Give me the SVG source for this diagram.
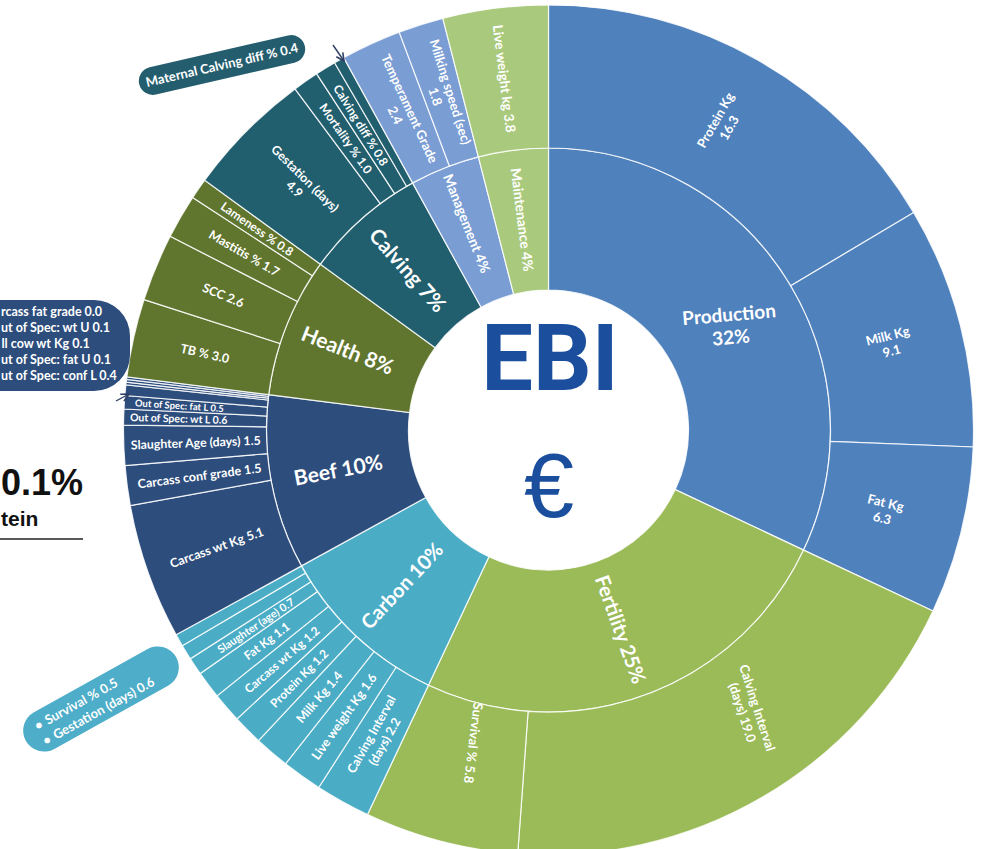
<svg xmlns="http://www.w3.org/2000/svg" width="982" height="849" viewBox="0 0 982 849">
<defs>
<style>
.seg{stroke:#ffffff;stroke-opacity:.85;stroke-width:1.2}
.prod{fill:#4F81BD}.fert{fill:#9BBB59}.carb{fill:#4BACC6}.beef{fill:#2D4D7C}
.health{fill:#60762E}.calv{fill:#215E6E}.mgmt{fill:#7A9DD4}.maint{fill:#A9C97C}
.lbl{font-family:Lato,"Open Sans","Liberation Sans",sans-serif;fill:#ffffff;font-weight:700;text-anchor:middle}
.big{font-family:Lato,"Open Sans","Liberation Sans",sans-serif;fill:#ffffff;font-weight:700;text-anchor:middle}
.call{font-family:Lato,"Open Sans","Liberation Sans",sans-serif;fill:#ffffff;font-weight:700}
.conn{stroke:#2E3F66;stroke-width:1.4;fill:none}
</style>
<marker id="arr" viewBox="0 0 10 10" refX="9" refY="5" markerWidth="7" markerHeight="7" orient="auto">
<path d="M1,1 L9,5 L1,9" fill="none" stroke="#2E3F66" stroke-width="1.6"/>
</marker>
</defs>
<rect width="982" height="849" fill="#ffffff"/>

<!-- inner ring -->
<g id="production"><path class="seg prod" d="M548.5,148 A282,282 0 0 1 803.6,550.1 L675.2,489.6 A140,140 0 0 0 548.5,290 Z"/>
<text class="big" font-size="19" transform="translate(730 326) rotate(-5)"><tspan x="0" dy="-0.25em">Production</tspan><tspan x="0" dy="1.2em">32%</tspan></text></g>
<g id="fertility"><path class="seg fert" d="M803.6,550.1 A282,282 0 0 1 428.4,685.2 L488.9,556.7 A140,140 0 0 0 675.2,489.6 Z"/>
<text class="big" font-size="20" dy="0.35em" transform="translate(548.5 430) rotate(160.2) translate(0 -212) rotate(-90)">Fertility 25%</text></g>
<g id="carbon"><path class="seg carb" d="M428.4,685.2 A282,282 0 0 1 301.4,565.9 L425.8,497.5 A140,140 0 0 0 488.9,556.7 Z"/>
<text class="big" font-size="20" dy="0.35em" transform="translate(548.5 430) rotate(223.2) translate(0 -214) rotate(90)">Carbon 10%</text></g>
<g id="beef"><path class="seg beef" d="M301.4,565.9 A282,282 0 0 1 268.7,394.7 L409.6,412.5 A140,140 0 0 0 425.8,497.5 Z"/>
<text class="big" font-size="21" dy="0.35em" transform="translate(548.5 430) rotate(259.2) translate(0 -214) rotate(90)">Beef 10%</text></g>
<g id="health"><path class="seg health" d="M268.7,394.7 A282,282 0 0 1 320.4,264.2 L435.2,347.7 A140,140 0 0 0 409.6,412.5 Z"/>
<text class="big" font-size="21" dy="0.35em" transform="translate(548.5 430) rotate(291.6) translate(0 -216) rotate(90)">Health 8%</text></g>
<g id="calving"><path class="seg calv" d="M320.4,264.2 A282,282 0 0 1 412.6,182.9 L481.1,307.3 A140,140 0 0 0 435.2,347.7 Z"/>
<text class="big" font-size="21" dy="0.35em" transform="translate(548.5 430) rotate(318.6) translate(0 -213) rotate(90)">Calving 7%</text></g>
<g id="management"><path class="seg mgmt" d="M412.6,182.9 A282,282 0 0 1 478.4,156.9 L513.7,294.4 A140,140 0 0 0 481.1,307.3 Z"/>
<text class="big" font-size="14" dy="0.35em" transform="translate(548.5 430) rotate(338.4) translate(0 -222) rotate(90)">Management 4%</text></g>
<g id="maintenance"><path class="seg maint" d="M478.4,156.9 A282,282 0 0 1 548.5,148 L548.5,290 A140,140 0 0 0 513.7,294.4 Z"/>
<text class="big" font-size="14" dy="0.35em" transform="translate(548.5 430) rotate(352.8) translate(0 -212) rotate(90)">Maintenance 4%</text></g>

<!-- outer ring: production -->
<g id="prod-protein"><path class="seg prod" d="M548.5,5 A425,425 0 0 1 913.7,212.6 L790.8,285.7 A282,282 0 0 0 548.5,148 Z"/>
<text class="lbl" font-size="13" transform="translate(548.5 430) rotate(29.6) translate(0 -352) rotate(-90)"><tspan x="0" dy="-0.25em">Protein Kg</tspan><tspan x="0" dy="1.2em">16.3</tspan></text></g>
<g id="prod-milk"><path class="seg prod" d="M913.7,212.6 A425,425 0 0 1 973.2,447 L830.3,441.3 A282,282 0 0 0 790.8,285.7 Z"/>
<text class="lbl" font-size="13" transform="translate(548.5 430) rotate(75.77) translate(0 -352) rotate(-90)"><tspan x="0" dy="-0.25em">Milk Kg</tspan><tspan x="0" dy="1.2em">9.1</tspan></text></g>
<g id="prod-fat"><path class="seg prod" d="M973.2,447 A425,425 0 0 1 933,611 L803.6,550.1 A282,282 0 0 0 830.3,441.3 Z"/>
<text class="lbl" font-size="13" transform="translate(548.5 430) rotate(103.5) translate(0 -345) rotate(-90)"><tspan x="0" dy="-0.25em">Fat Kg</tspan><tspan x="0" dy="1.2em">6.3</tspan></text></g>

<!-- outer ring: fertility -->
<g id="fert-calving-interval"><path class="seg fert" d="M933,611 A425,425 0 0 1 517.7,853.9 L528.1,711.3 A282,282 0 0 0 803.6,550.1 Z"/>
<text class="lbl" font-size="13" transform="translate(548.5 430) rotate(144.3) translate(0 -345) rotate(-72.3)"><tspan x="0" dy="-0.25em">Calving Interval</tspan><tspan x="0" dy="1.2em">(days) 19.0</tspan></text></g>
<g id="fert-survival"><path class="seg fert" d="M517.7,853.9 A425,425 0 0 1 367.5,814.5 L428.4,685.2 A282,282 0 0 0 528.1,711.3 Z"/>
<text class="lbl" font-size="13" dy="0.35em" transform="translate(548.5 430) rotate(193.5) translate(0 -322) rotate(-96.5)">Survival % 5.8</text></g>

<!-- outer ring: carbon -->
<g id="carb-calving-interval"><path class="seg carb" d="M367.5,814.5 A425,425 0 0 1 318.7,787.5 L396,667.2 A282,282 0 0 0 428.4,685.2 Z"/>
<text class="lbl" font-size="12.5" transform="translate(548.5 430) rotate(208.97) translate(0 -352) rotate(90)"><tspan x="0" dy="-0.25em">Calving Interval</tspan><tspan x="0" dy="1.2em">(days) 2.2</tspan></text></g>
<g id="carb-live-weight"><path class="seg carb" d="M318.7,787.5 A425,425 0 0 1 285.5,763.8 L374,651.5 A282,282 0 0 0 396,667.2 Z"/>
<text class="lbl" font-size="12.5" dy="0.35em" transform="translate(548.5 430) rotate(215.49) translate(0 -352) rotate(90)">Live weight Kg 1.6</text></g>
<g id="carb-milk"><path class="seg carb" d="M285.5,763.8 A425,425 0 0 1 258.5,740.7 L356.1,636.2 A282,282 0 0 0 374,651.5 Z"/>
<text class="lbl" font-size="12.5" dy="0.35em" transform="translate(548.5 430) rotate(220.63) translate(0 -352) rotate(90)">Milk Kg 1.4</text></g>
<g id="carb-protein"><path class="seg carb" d="M258.5,740.7 A425,425 0 0 1 236.9,719 L341.8,621.8 A282,282 0 0 0 356.1,636.2 Z"/>
<text class="lbl" font-size="12" dy="0.35em" transform="translate(548.5 430) rotate(225.09) translate(0 -352) rotate(90)">Protein Kg 1.2</text></g>
<g id="carb-carcass"><path class="seg carb" d="M236.9,719 A425,425 0 0 1 217,695.9 L328.5,606.4 A282,282 0 0 0 341.8,621.8 Z"/>
<text class="lbl" font-size="12" dy="0.35em" transform="translate(548.5 430) rotate(229.2) translate(0 -352) rotate(90)">Carcass wt Kg 1.2</text></g>
<g id="carb-fat"><path class="seg carb" d="M217,695.9 A425,425 0 0 1 200.2,673.6 L317.4,591.6 A282,282 0 0 0 328.5,606.4 Z"/>
<text class="lbl" font-size="12" dy="0.35em" transform="translate(548.5 430) rotate(233.15) translate(0 -352) rotate(90)">Fat Kg 1.1</text></g>
<g id="carb-slaughter"><path class="seg carb" d="M200.2,673.6 A425,425 0 0 1 190.3,658.8 L310.8,581.8 A282,282 0 0 0 317.4,591.6 Z"/>
<text class="lbl" font-size="11" dy="0.35em" transform="translate(548.5 430) rotate(236.23) translate(0 -352) rotate(90)">Slaughter (age) 0.7</text></g>
<g id="carb-gestation"><path class="seg carb" d="M190.3,658.8 A425,425 0 0 1 182.3,645.7 L305.5,573.1 A282,282 0 0 0 310.8,581.8 Z"/></g>
<g id="carb-survival"><path class="seg carb" d="M182.3,645.7 A425,425 0 0 1 176.1,634.8 L301.4,565.9 A282,282 0 0 0 305.5,573.1 Z"/></g>

<!-- outer ring: beef -->
<g id="beef-carcass-wt"><path class="seg beef" d="M176.1,634.8 A425,425 0 0 1 130.3,505.6 L271,480.2 A282,282 0 0 0 301.4,565.9 Z"/>
<text class="lbl" font-size="12.5" dy="0.35em" transform="translate(548.5 430) rotate(250.48) translate(0 -352) rotate(90)">Carcass wt Kg 5.1</text></g>
<g id="beef-conf-grade"><path class="seg beef" d="M130.3,505.6 A425,425 0 0 1 125,465.6 L267.5,453.6 A282,282 0 0 0 271,480.2 Z"/>
<text class="lbl" font-size="12.5" dy="0.35em" transform="translate(548.5 430) rotate(262.48) translate(0 -352) rotate(90)">Carcass conf grade 1.5</text></g>
<g id="beef-slaughter-age"><path class="seg beef" d="M125,465.6 A425,425 0 0 1 123.5,425.2 L266.5,426.8 A282,282 0 0 0 267.5,453.6 Z"/>
<text class="lbl" font-size="12.3" dy="0.35em" transform="translate(548.5 430) rotate(267.93) translate(0 -353) rotate(90)">Slaughter Age (days) 1.5</text></g>
<g id="beef-wt-l"><path class="seg beef" d="M123.5,425.2 A425,425 0 0 1 124,409 L266.8,416 A282,282 0 0 0 266.5,426.8 Z"/>
<text class="lbl" font-size="10.5" dy="0.35em" transform="translate(548.5 430) rotate(271.75) translate(0 -370) rotate(90)">Out of Spec: wt L 0.6</text></g>
<g id="beef-fat-l"><path class="seg beef" d="M124,409 A425,425 0 0 1 124.9,395.5 L267.4,407.1 A282,282 0 0 0 266.8,416 Z"/>
<text class="lbl" font-size="9.5" dy="0.35em" transform="translate(548.5 430) rotate(273.75) translate(0 -370) rotate(90)">Out of Spec: fat L 0.5</text></g>
<g id="beef-conf-l"><path class="seg beef" d="M124.9,395.5 A425,425 0 0 1 125.9,384.8 L268.1,400 A282,282 0 0 0 267.4,407.1 Z"/></g>
<g id="beef-fat-u"><path class="seg beef" d="M125.9,384.8 A425,425 0 0 1 126.2,382.1 L268.3,398.2 A282,282 0 0 0 268.1,400 Z"/></g>
<g id="beef-cull-cow"><path class="seg beef" d="M126.2,382.1 A425,425 0 0 1 126.5,379.4 L268.5,396.4 A282,282 0 0 0 268.3,398.2 Z"/></g>
<g id="beef-wt-u"><path class="seg beef" d="M126.5,379.4 A425,425 0 0 1 126.9,376.8 L268.7,394.7 A282,282 0 0 0 268.5,396.4 Z"/></g>

<!-- outer ring: health -->
<g id="health-tb"><path class="seg health" d="M126.9,376.8 A425,425 0 0 1 144,299.6 L280.1,343.5 A282,282 0 0 0 268.7,394.7 Z"/>
<text class="lbl" font-size="12.5" dy="0.35em" transform="translate(548.5 430) rotate(282.54) translate(0 -352) rotate(90)">TB % 3.0</text></g>
<g id="health-scc"><path class="seg health" d="M144,299.6 A425,425 0 0 1 170.2,236.3 L297.5,301.5 A282,282 0 0 0 280.1,343.5 Z"/>
<text class="lbl" font-size="12.5" dy="0.35em" transform="translate(548.5 430) rotate(292.49) translate(0 -352) rotate(90)">SCC 2.6</text></g>
<g id="health-mastitis"><path class="seg health" d="M170.2,236.3 A425,425 0 0 1 192.7,197.5 L312.4,275.7 A282,282 0 0 0 297.5,301.5 Z"/>
<text class="lbl" font-size="12.5" dy="0.35em" transform="translate(548.5 430) rotate(300.14) translate(0 -352) rotate(90)">Mastitis % 1.7</text></g>
<g id="health-lameness"><path class="seg health" d="M192.7,197.5 A425,425 0 0 1 204.7,180.2 L320.4,264.2 A282,282 0 0 0 312.4,275.7 Z"/>
<text class="lbl" font-size="12" dy="0.35em" transform="translate(548.5 430) rotate(304.58) translate(0 -354) rotate(90)">Lameness % 0.8</text></g>

<!-- outer ring: calving -->
<g id="calv-gestation"><path class="seg calv" d="M204.7,180.2 A425,425 0 0 1 295,88.9 L380.3,203.6 A282,282 0 0 0 320.4,264.2 Z"/>
<text class="lbl" font-size="12.5" transform="translate(548.5 430) rotate(314.7) translate(0 -350) rotate(90)"><tspan x="0" dy="-0.25em">Gestation (days)</tspan><tspan x="0" dy="1.2em">4.9</tspan></text></g>
<g id="calv-mortality"><path class="seg calv" d="M295,88.9 A425,425 0 0 1 316.7,73.8 L394.7,193.6 A282,282 0 0 0 380.3,203.6 Z"/>
<text class="lbl" font-size="12" dy="0.35em" transform="translate(548.5 430) rotate(325.17) translate(0 -355) rotate(90)">Mortality % 1.0</text></g>
<g id="calv-difficulty"><path class="seg calv" d="M316.7,73.8 A425,425 0 0 1 334.6,62.7 L406.6,186.3 A282,282 0 0 0 394.7,193.6 Z"/>
<text class="lbl" font-size="12" dy="0.35em" transform="translate(548.5 430) rotate(328.36) translate(0 -358) rotate(90)">Calving diff % 0.8</text></g>
<g id="calv-maternal"><path class="seg calv" d="M334.6,62.7 A425,425 0 0 1 343.7,57.6 L412.6,182.9 A282,282 0 0 0 406.6,186.3 Z"/></g>

<!-- outer ring: management / maintenance -->
<g id="mgmt-temperament"><path class="seg mgmt" d="M343.7,57.6 A425,425 0 0 1 399.2,32.1 L449.4,166 A282,282 0 0 0 412.6,182.9 Z"/>
<text class="lbl" font-size="13" transform="translate(548.5 430) rotate(335.32) translate(0 -350) rotate(90)"><tspan x="0" dy="-0.25em">Temperament Grade</tspan><tspan x="0" dy="1.2em">2.4</tspan></text></g>
<g id="mgmt-milking-speed"><path class="seg mgmt" d="M399.2,32.1 A425,425 0 0 1 442.8,18.3 L478.4,156.9 A282,282 0 0 0 449.4,166 Z"/>
<text class="lbl" font-size="13" transform="translate(548.5 430) rotate(342.52) translate(0 -352) rotate(90)"><tspan x="0" dy="-0.25em">Milking speed (sec)</tspan><tspan x="0" dy="1.2em">1.8</tspan></text></g>
<g id="maint-live-weight"><path class="seg maint" d="M442.8,18.3 A425,425 0 0 1 548.5,5 L548.5,148 A282,282 0 0 0 478.4,156.9 Z"/>
<text class="lbl" font-size="13.5" dy="0.35em" transform="translate(548.5 430) rotate(352.8) translate(0 -354) rotate(90)">Live weight kg 3.8</text></g>

<!-- centre -->
<g id="centre">
<circle cx="548.5" cy="430" r="139" fill="#ffffff"/>
<text x="550" y="390" font-family="Roboto,'Liberation Sans',sans-serif" font-weight="700" font-size="92" fill="#1B4F9E" text-anchor="middle">EBI</text>
<text x="549" y="517" font-family="'Liberation Sans',Arial,sans-serif" font-size="90" fill="#1B4F9E" text-anchor="middle">€</text>
</g>

<!-- callouts -->
<g id="callout-maternal" transform="translate(222 65) rotate(-13)">
<rect x="-85" y="-14" width="170" height="28" rx="14" fill="#245E6E"/>
<text class="call" x="0" y="4.5" font-size="13" text-anchor="middle">Maternal Calving diff % 0.4</text>
</g>
<g id="callout-beef">
<rect x="-40" y="300" width="170" height="91" rx="36" fill="#2D4D7C"/>
<text class="call" font-size="12.5"><tspan x="1" y="316">rcass fat grade 0.0</tspan><tspan x="1" y="332">ut of Spec: wt U 0.1</tspan><tspan x="1.5" y="347.5">ll cow wt Kg 0.1</tspan><tspan x="1" y="363.5">ut of Spec: fat U 0.1</tspan><tspan x="1" y="379.5">ut of Spec: conf L 0.4</tspan></text>
</g>
<g id="callout-carbon" transform="translate(101 699) rotate(-29)">
<rect x="-86" y="-21" width="172" height="42" rx="21" fill="#4EADC8"/>
<text class="call" font-size="13"><tspan x="-71" y="-3">•</tspan><tspan x="-59" y="-3">Survival % 0.5</tspan><tspan x="-71" y="14">•</tspan><tspan x="-59" y="14">Gestation (days)  0.6</tspan></text>
</g>

<!-- connectors -->
<g id="connectors">
<line class="conn" x1="333" y1="45" x2="344" y2="61" marker-end="url(#arr)"/>
<line class="conn" x1="116" y1="401" x2="129" y2="394" marker-end="url(#arr)"/>
</g>

<!-- cropped fragment at left edge -->
<g id="left-fragment" font-family="'Liberation Sans',Arial,sans-serif" font-weight="700" fill="#111111">
<text x="1" y="495" font-size="36">0.1%</text>
<text x="1" y="526" font-size="21">tein</text>
<line x1="0" y1="539" x2="83" y2="539" stroke="#222222" stroke-width="1.5"/>
</g>
</svg>
